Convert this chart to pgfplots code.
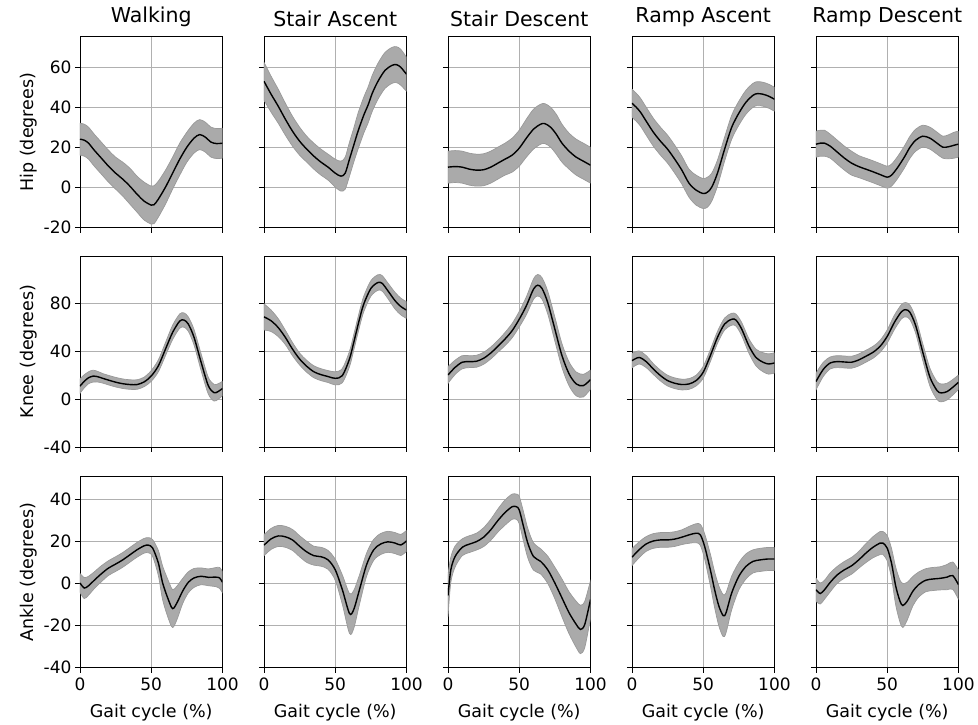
\documentclass[border=0pt]{standalone}
\usepackage{pgfplots}
\pgfplotsset{compat=1.18}
\usepackage{pgfplotstable}
\usepgfplotslibrary{fillbetween}
\usepackage{fontspec}
\setmainfont{DejaVu Sans}
\definecolor{gridc}{HTML}{B0B0B0}
\definecolor{bandc}{HTML}{AAAAAA}
\definecolor{bandedge}{HTML}{999999}

% ---------------- Hip ----------------
\pgfplotstableread{
x m lo hi
0 24 16 32
3 23.5 15.5 31.5
6 22 14 30
10 18.5 10.5 26.5
15 14.5 6.5 22.5
20 10.5 2.5 18.5
25 7 -1 15
30 4 -4.5 12.5
35 0.5 -8.5 9.5
40 -3.5 -12.5 5.5
45 -7 -16.5 2.5
50 -9 -18.5 0.5
52 -8.8 -18.3 0.7
55 -6 -15 3
60 0 -8.5 8.5
65 7 -1 15
70 14 6 22
75 20 12.5 27.5
80 24.5 17 32
84 26.3 18.8 33.8
88 25 17.5 32.5
92 22.5 15 30
96 21.8 14.3 29.3
100 22 14.5 29.5
}\tHipWalk
\pgfplotstableread{
x m lo hi
0 53 43.5 62.5
5 46.5 37.5 55.5
10 40.5 32 49
15 34 26 42
20 28 20.5 35.5
25 23 16 30
30 19 12.5 25.5
35 15.5 9 22
40 12.5 6 19
45 10 3.5 16.5
50 7 0 14
54 5.5 -2 13
57 7 -1 15
60 14 5.5 22.5
63 21 12.5 29.5
66 28 19 37
70 36 27 45
73 41 32 50
76 47 38 56
80 53 44 62
85 58.5 49.5 67.5
90 61 52 70
93 61.3 52.3 70.3
96 60 51 69
100 56.5 48 65
}\tHipSA
\pgfplotstableread{
x m lo hi
0 10 2 18
5 10.3 2.3 18.3
10 10 2 18
15 9 1 17
20 8.5 0.5 16.5
25 8.7 0.7 16.7
30 10 2 18
35 12 4 20
40 14 6 22
45 16 7.5 24.5
50 19.5 10.5 28.5
55 24.5 15 34
60 29 19 39
65 31.5 21.5 41.5
68 31.8 21.8 41.8
72 30 20 40
76 26.5 16.5 36.5
80 22 12.5 31.5
85 18 9 27
90 15 6 24
95 13 4 22
100 11 2 20
}\tHipSD
\pgfplotstableread{
x m lo hi
0 42 35 49
3 40 33 47
6 37.5 30.5 44.5
10 33 26 40
15 27.5 20.5 34.5
20 23 16 30
25 19 12 26
30 14 7 21
35 8.5 1.5 15.5
40 2 -5 9
45 -1.5 -9 6
50 -3.2 -10.7 4.3
53 -2.5 -10 5
56 0 -7 7
60 7 0.5 13.5
65 19 13 25
70 30 24 36
75 37 31 43
80 42.5 36.5 48.5
85 46 40 52
88 46.8 40.8 52.8
92 46.5 40.5 52.5
96 45.5 39.5 51.5
100 44 38 50
}\tHipRA
\pgfplotstableread{
x m lo hi
0 21.5 15 28
3 22 15.5 28.5
6 22 15.5 28.5
10 20.5 14.5 26.5
15 17.5 11.5 23.5
20 14.5 8.5 20.5
25 12 6 18
30 10.3 4.8 15.8
35 9 3.5 14.5
40 7.7 2.2 13.2
45 6.3 0.8 11.8
50 5 -0.5 10.5
53 6 0.5 11.5
57 9.5 4 15
62 15 9.5 20.5
66 20 14.5 25.5
70 23.5 18 29
75 25.5 20 31
80 24.5 19 30
85 22 16.5 27.5
89 20 14.5 25.5
93 20.2 14.2 26.2
97 21 14.5 27.5
100 21.5 15 28
}\tHipRD

% ---------------- Knee ----------------
\pgfplotstableread{
x m lo hi
0 11 5 17
3 15 9.5 20.5
6 18 13 23
9 19.3 14.3 24.3
12 19 14.5 23.5
16 17.5 13.5 21.5
20 16 12 20
25 14.3 10.3 18.3
30 13 9 17
35 12.3 8.3 16.3
40 12.3 8.3 16.3
45 14.5 10.5 18.5
50 19.5 15 24
55 28 23 33
60 42 36.5 47.5
65 56 50 62
70 65.5 59.5 71.5
73 66.3 60.3 72.3
76 63 57 69
80 52 45.5 58.5
85 31 24 38
90 11.5 4.5 18.5
94 5.5 -1.5 12.5
97 6.5 0 13
100 9 3 15
}\tKneeWalk
\pgfplotstableread{
x m lo hi
0 69 58 80
5 65.7 56.7 74.7
10 60 52.5 67.5
15 51.8 45.8 57.8
20 42 36.5 47.5
25 33.7 28.7 38.7
30 27.6 22.6 32.6
35 23 18 28
40 20.6 15.6 25.6
45 19 14 24
50 17.5 12 23
55 19.8 13.8 25.8
60 33.7 27.2 40.2
63 47.6 41.1 54.1
67 67 60.5 73.5
70 79.7 73.2 86.2
75 92.8 86.3 99.3
80 97.8 91.3 104.3
83 97 90.5 103.5
87 90.8 84.3 97.3
92 82.5 75.5 89.5
96 77.7 70.7 84.7
100 74.7 67.7 81.7
}\tKneeSA
\pgfplotstableread{
x m lo hi
0 20.3 13.3 27.3
5 26.7 20.7 32.7
10 31 25.5 36.5
15 31.5 26.5 36.5
20 31.8 26.8 36.8
25 34.3 29.3 39.3
30 38.7 33.7 43.7
35 44.3 39.3 49.3
40 50.4 44.9 55.9
45 57.4 51.4 63.4
50 67 60.5 73.5
55 78.3 70.8 85.8
60 92.2 83.7 100.7
63 95.5 86.5 104.5
66 92.8 83.8 101.8
70 81 71.5 90.5
75 58.8 48.8 68.8
80 36.5 26.5 46.5
85 21.2 11.2 31.2
90 12.8 2.8 22.8
95 11.4 1.9 20.9
100 16.4 8.4 24.4
}\tKneeSD
\pgfplotstableread{
x m lo hi
0 32.3 26.3 38.3
5 35 29.5 40.5
10 31.5 26.5 36.5
15 25.3 20.8 29.8
20 19.8 15.3 24.3
25 15.6 11.1 20.1
30 13.4 8.9 17.9
35 12.3 7.8 16.8
40 12.8 8.3 17.3
45 15.6 11.1 20.1
50 22.6 17.6 27.6
55 36.5 31.5 41.5
60 51.8 46.8 56.8
65 63 58 68
70 67 62 72
73 66.3 61.3 71.3
77 58.8 53.3 64.3
82 44.8 38.8 50.8
87 35 28 42
92 31 23 39
96 29.5 21 38
100 30.4 21.9 38.9
}\tKneeRA
\pgfplotstableread{
x m lo hi
0 14.8 7.8 21.8
5 24.8 18.8 30.8
10 30.4 25.4 35.4
15 31.5 26.5 36.5
20 31.2 26.2 36.2
25 31 26 36
30 32.9 27.9 37.9
35 36 31 41
40 39.3 34.3 44.3
45 44.3 39.3 49.3
50 52.6 47.1 58.1
55 64.3 58.3 70.3
60 73.3 67.3 79.3
63 75 69 81
66 72.7 66.7 78.7
70 61.6 55.1 68.1
75 39.3 32.3 46.3
80 18.4 10.9 25.9
85 7.2 -0.3 14.7
88 5.3 -2.2 12.8
92 6.4 -0.6 13.4
96 10 3.5 16.5
100 14.2 8.2 20.2
}\tKneeRD

% ---------------- Ankle ----------------
\pgfplotstableread{
x m lo hi
0 0 -4.5 4.5
3 -2.4 -7.4 2.6
6 -1.3 -5.8 3.2
10 1.3 -2.7 5.3
15 4.4 0.6 8.2
20 7.1 3.6 10.6
25 9 5.5 12.5
30 11 7.5 14.5
35 13.4 9.9 16.9
40 15.8 12.3 19.3
45 17.7 14.2 21.2
48 18 14.4 21.6
51 16.6 12.6 20.6
55 9.5 3.5 15.5
58 0 -8 8
62 -7.9 -16.9 1.1
65 -12.2 -21.2 -3.2
68 -9.5 -17.5 -1.5
72 -3.9 -9.9 2.1
76 0.3 -4.7 5.3
80 2.4 -2.1 6.9
85 3.2 -0.8 7.2
90 2.7 -1.3 6.7
95 2.8 -1.7 7.3
98 2.4 -2.6 7.4
100 0.3 -4.7 5.3
}\tAnkWalk
\pgfplotstableread{
x m lo hi
0 18 13 23
5 21 16 26
10 22.4 17.4 27.4
15 22 17 27
20 20.5 15.5 25.5
25 17.5 12.5 22.5
30 14.8 9.8 19.8
35 13 8.5 17.5
40 12.5 8 17
45 11 6.5 15.5
50 6.3 1.3 11.3
55 -3.2 -10.2 3.8
60 -14.5 -24 -5
63 -12.6 -21.6 -3.6
67 -3.2 -10.2 3.8
72 8.7 3.2 14.2
77 15.8 10.8 20.8
82 18.6 13.6 23.6
87 19.6 14.6 24.6
92 19 14 24
96 18.1 13.1 23.1
100 20 15 25
}\tAnkSA
\pgfplotstableread{
x m lo hi
0 -6 -16 4
2 6.3 0.3 12.3
5 12.6 7.6 17.6
10 17 13 21
15 18.5 14.5 22.5
20 19.7 15.7 23.7
25 21.8 17.3 26.3
30 25.3 20.3 30.3
35 29.7 24.2 35.2
40 33.5 27.5 39.5
45 36.3 30.3 42.3
48 36.3 30.3 42.3
50 34.8 28.3 41.3
53 26.9 19.9 33.9
56 19 12 26
60 12.6 6.1 19.1
65 10.3 4.3 16.3
70 6.3 -0.2 12.8
75 0 -7.5 7.5
80 -7.1 -16.1 1.9
85 -14.2 -24.2 -4.2
90 -19.7 -30.7 -8.7
93 -22.1 -33.6 -10.6
96 -19.7 -30.7 -8.7
100 -7.9 -16.9 1.1
}\tAnkSD
\pgfplotstableread{
x m lo hi
0 12.3 8.3 16.3
5 15.8 12 19.6
10 18.6 15.1 22.1
15 20 16.5 23.5
20 20.5 17 24
25 20.5 17 24
30 20.9 17.4 24.4
35 21.8 18.3 25.3
40 22.9 18.9 26.9
45 23.7 19.2 28.2
48 22.9 17.9 27.9
51 17.4 11.4 23.4
55 6.3 -1.2 13.8
58 -3.2 -11.7 5.3
61 -11 -20.5 -1.5
64 -15.5 -25.5 -5.5
66 -14.2 -23.7 -4.7
70 -4.7 -12.7 3.3
75 3.2 -3.3 9.7
80 7.9 1.9 13.9
85 10.3 4.8 15.8
90 11 5.5 16.5
95 11.4 5.9 16.9
100 11.4 5.9 16.9
}\tAnkRA
\pgfplotstableread{
x m lo hi
0 -3.2 -8.7 2.3
3 -5 -10 0
6 -3.2 -7.7 1.3
10 0.3 -4.2 4.8
15 3.9 -0.1 7.9
20 6.3 2.3 10.3
25 8.2 4.2 12.2
30 11 7 15
35 14.2 9.7 18.7
40 17 12 22
45 19 13.5 24.5
47 19 13.5 24.5
50 16.6 10.6 22.6
53 9.5 2.5 16.5
56 -1.6 -10.6 7.4
59 -8.7 -18.7 1.3
61 -10.7 -21.2 -0.2
64 -8.7 -17.7 0.3
68 -3.9 -10.9 3.1
72 -0.8 -6.8 5.2
77 1.3 -4.2 6.8
82 1.9 -3.6 7.4
87 2.2 -3.3 7.7
92 2.8 -3.2 8.8
96 3.5 -3 10
100 -0.8 -7.8 6.2
}\tAnkRD

\pgfplotsset{
  gaitbase/.style={
    scale only axis, width=142.5pt, height=191pt,
    xmin=0, xmax=100, xtick={0,50,100},
    grid=major, major grid style={draw=gridc, line width=0.9pt},
    axis line style={line width=0.9pt},
    tick align=outside, major tick length=5pt,
    tick style={black, line width=0.9pt},
    xtick pos=left, ytick pos=left,
    tick label style={font=\fontsize{17}{20}\selectfont},
    xticklabel style={yshift=-2pt},
    label style={font=\fontsize{17.5}{20}\selectfont},
    xlabel style={yshift=-6pt},
    title style={font=\fontsize{20.5}{24}\selectfont},
    /pgf/number format/assume math mode=true,
  },
  hiprow/.style={ymin=-20.3, ymax=75.3, ytick={-20,0,20,40,60}},
  kneerow/.style={ymin=-40, ymax=120, ytick={-40,0,40,80}},
  ankrow/.style={ymin=-40.3, ymax=50.6, ytick={-40,-20,0,20,40}},
  nox/.style={xticklabels={,,}},
  noy/.style={yticklabels={,,,,,}},
}

% #1 = lower-left corner of the axis box, #2 = table, #3 = options
\newcommand{\panel}[3]{%
\begin{axis}[gaitbase, at={#1}, #3]
\addplot[draw=none, name path=hi, smooth] table[x=x, y=hi] {#2};
\addplot[draw=none, name path=lo, smooth] table[x=x, y=lo] {#2};
\addplot[fill=bandc, draw=bandedge, line width=0.7pt] fill between[of=hi and lo];
\addplot[black, line width=1.4pt, smooth] table[x=x, y=m] {#2};
\end{axis}}

\begin{document}
\begin{tikzpicture}
\path (0pt,0pt) rectangle (978pt,-723pt);
% Hip row
\panel{(80pt,-227.7pt)}{\tHipWalk}{hiprow, nox, title={Walking}, ylabel={Hip (degrees)}}
\panel{(264pt,-227.7pt)}{\tHipSA}{hiprow, nox, noy, title={Stair Ascent}}
\panel{(448pt,-227.7pt)}{\tHipSD}{hiprow, nox, noy, title={Stair Descent}}
\panel{(632pt,-227.7pt)}{\tHipRA}{hiprow, nox, noy, title={Ramp Ascent}}
\panel{(816pt,-227.7pt)}{\tHipRD}{hiprow, nox, noy, title={Ramp Descent}}
% Knee row
\panel{(80pt,-447pt)}{\tKneeWalk}{kneerow, nox, ylabel={Knee (degrees)}}
\panel{(264pt,-447pt)}{\tKneeSA}{kneerow, nox, noy}
\panel{(448pt,-447pt)}{\tKneeSD}{kneerow, nox, noy}
\panel{(632pt,-447pt)}{\tKneeRA}{kneerow, nox, noy}
\panel{(816pt,-447pt)}{\tKneeRD}{kneerow, nox, noy}
% Ankle row
\panel{(80pt,-667.7pt)}{\tAnkWalk}{ankrow, ylabel={Ankle (degrees)}, xlabel={Gait cycle (\%)}}
\panel{(264pt,-667.7pt)}{\tAnkSA}{ankrow, noy, xlabel={Gait cycle (\%)}}
\panel{(448pt,-667.7pt)}{\tAnkSD}{ankrow, noy, xlabel={Gait cycle (\%)}}
\panel{(632pt,-667.7pt)}{\tAnkRA}{ankrow, noy, xlabel={Gait cycle (\%)}}
\panel{(816pt,-667.7pt)}{\tAnkRD}{ankrow, noy, xlabel={Gait cycle (\%)}}
\end{tikzpicture}
\end{document}
